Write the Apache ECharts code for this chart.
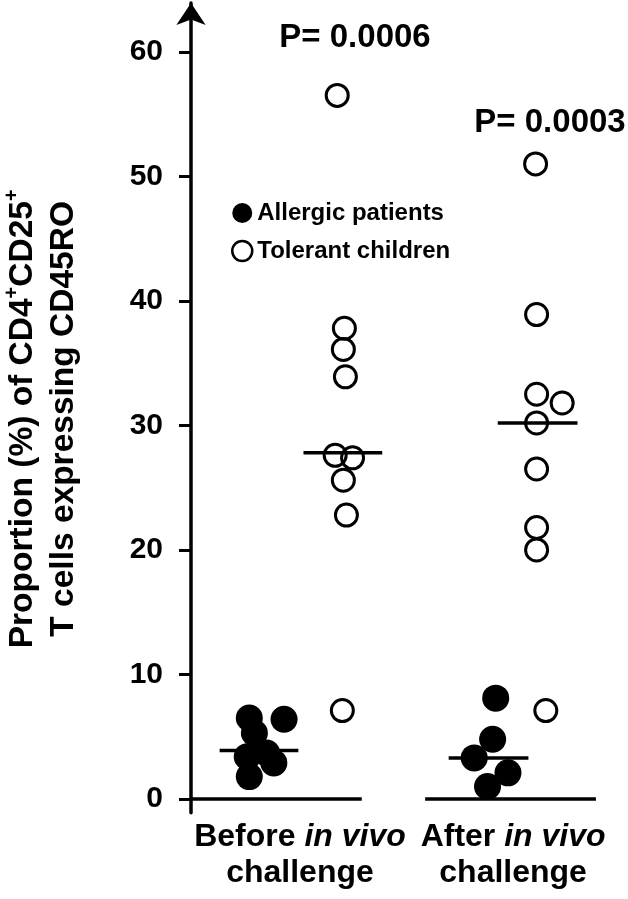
<!DOCTYPE html>
<html>
<head>
<meta charset="utf-8">
<script src="https://cdn.jsdelivr.net/npm/echarts@6/dist/echarts.min.js"></script>
<style>
html,body{margin:0;padding:0;background:#fff;}
#chart{width:628px;height:899px;}
</style>
</head>
<body>
<div id="chart"></div>
<script>
// ---- data ----
const categories = ['Before in vivo challenge', 'After in vivo challenge'];
const categoryPos = [10.66, 31.5];
const yTicks = [0, 10, 20, 30, 40, 50, 60];

const allergicBeforeY = [6.5, 6.4, 5.3, 3.7, 3.4, 2.9, 1.8];
const allergicBeforeX = [5.7, 9.1, 6.2, 7.4, 5.5, 8.1, 5.7];
const tolerantBeforeY = [56.5, 37.8, 36.1, 33.9, 27.6, 27.4, 25.6, 22.8, 7.1];
const tolerantBeforeX = [14.3, 15.0, 14.9, 15.1, 14.1, 15.8, 14.9, 15.2, 14.8];
const allergicAfterY = [8.1, 4.8, 3.3, 2.1, 1.0];
const allergicAfterX = [29.8, 29.5, 27.7, 31.0, 29.0];
const tolerantAfterY = [51.0, 38.9, 32.5, 31.8, 30.2, 26.5, 21.8, 20.0, 7.1];
const tolerantAfterX = [33.7, 33.8, 33.8, 36.3, 33.8, 33.8, 33.8, 33.8, 34.7];

const medianValues = [3.9, 27.8, 3.3, 30.2];
const medianFrom = [2.8, 11.0, 25.2, 30.0];
const medianTo = [10.5, 18.7, 33.0, 37.8];

const baselineFrom = [0, 22.9];
const baselineTo = [16.7, 39.6];

const pLabels = ['P= 0.0006', 'P= 0.0003'];

// ---- chart ----
const FONT = '"Liberation Sans", Arial, Helvetica, sans-serif';
const zip = (xs, ys) => xs.map((x, i) => [x, ys[i]]);

const filled = { color: '#000', opacity: 1 };
const hollow = { color: 'rgba(0,0,0,0)', borderColor: '#000', borderWidth: 3, opacity: 1 };

const series = [];
series.push({ name: 'Allergic patients', type: 'scatter', symbol: 'circle', symbolSize: 27, itemStyle: filled, data: zip(allergicBeforeX, allergicBeforeY), z: 3 });
series.push({ name: 'Allergic patients', type: 'scatter', symbol: 'circle', symbolSize: 27, itemStyle: filled, data: zip(allergicAfterX, allergicAfterY), z: 3 });
series.push({ name: 'Tolerant children', type: 'scatter', symbol: 'circle', symbolSize: 22, itemStyle: hollow, data: zip(tolerantBeforeX, tolerantBeforeY), z: 3 });
series.push({ name: 'Tolerant children', type: 'scatter', symbol: 'circle', symbolSize: 22, itemStyle: hollow, data: zip(tolerantAfterX, tolerantAfterY), z: 3 });
medianValues.forEach((m, i) => {
  series.push({ type: 'line', symbol: 'none', silent: true, z: 5,
    lineStyle: { color: '#000', width: 3.5 },
    data: [[medianFrom[i], m], [medianTo[i], m]] });
});
baselineFrom.forEach((b, i) => {
  series.push({ type: 'line', symbol: 'none', silent: true, z: 4,
    lineStyle: { color: '#000', width: 3.5 },
    data: [[b, 0], [baselineTo[i], 0]] });
});

const labelMap = {};
categoryPos.forEach((p, i) => { labelMap[p] = categories[i]; });

const option = {
  backgroundColor: '#fff',
  animation: false,
  grid: { left: 191, right: 28, top: 3, bottom: 86.3, containLabel: false, outerBoundsMode: 'none' },
  xAxis: {
    type: 'value', min: 0, max: 40,
    axisLine: { show: false }, axisTick: { show: false }, splitLine: { show: false },
    axisLabel: {
      customValues: categoryPos,
      margin: 6,
      formatter: function (v) {
        const name = labelMap[v] || '';
        const m = name.match(/^(\S+) in vivo (.*)$/);
        if (!m) return name;
        return '{b|' + m[1] + ' }{i|in vivo}\n{b|' + m[2] + '}';
      },
      rich: {
        b: { fontFamily: FONT, fontWeight: 'bold', fontSize: 32, color: '#000', lineHeight: 36 },
        i: { fontFamily: FONT, fontWeight: 'bold', fontStyle: 'italic', fontSize: 32, color: '#000', lineHeight: 36 }
      }
    }
  },
  yAxis: {
    type: 'value', min: -1.1, max: 63.92,
    axisLine: { show: true, onZero: false, symbol: ['none', 'arrow'], symbolSize: [22, 22], lineStyle: { color: '#000', width: 3.5 } },
    axisTick: { show: true, customValues: yTicks, length: 12, lineStyle: { color: '#000', width: 3 } },
    splitLine: { show: false },
    axisLabel: { customValues: yTicks, margin: 28, fontFamily: FONT, fontWeight: 'bold', fontSize: 30, color: '#000' },
    name: '{n|Proportion (%) of CD4}{sup|+}{n|CD25}{sup|+}\n{n|T cells expressing CD45RO}',
    nameLocation: 'middle', nameRotate: 90, nameGap: 107,
    nameTextStyle: {
      fontFamily: FONT, fontWeight: 'bold', fontSize: 33.5, color: '#000', lineHeight: 40,
      padding: [0, 22, 0, 0],
      rich: {
        n: { fontFamily: FONT, fontWeight: 'bold', fontSize: 33.5, color: '#000', lineHeight: 41 },
        sup: { fontFamily: FONT, fontWeight: 'bold', fontSize: 20, color: '#000', verticalAlign: 'top', lineHeight: 34 }
      }
    }
  },
  legend: {
    orient: 'vertical', left: 226, top: 196, itemWidth: 20, itemHeight: 20, itemGap: 14,
    textStyle: { fontFamily: FONT, fontWeight: 'bold', fontSize: 24, color: '#000', lineHeight: 24 },
    data: [
      { name: 'Allergic patients', icon: 'circle', itemStyle: { color: '#000', borderWidth: 0, opacity: 1 } },
      { name: 'Tolerant children', icon: 'circle', itemStyle: { color: '#fff', borderColor: '#000', borderWidth: 2.5, opacity: 1 } }
    ]
  },
  graphic: [
    { type: 'text', x: 355, y: 38, style: { text: pLabels[0], align: 'center', verticalAlign: 'middle', font: 'bold 33px ' + FONT, fill: '#000' } },
    { type: 'text', x: 550, y: 123, style: { text: pLabels[1], align: 'center', verticalAlign: 'middle', font: 'bold 33px ' + FONT, fill: '#000' } }
  ],
  series: series
};

const chart = echarts.init(document.getElementById('chart'), null, { renderer: 'canvas' });
chart.setOption(option);
</script>
</body>
</html>
